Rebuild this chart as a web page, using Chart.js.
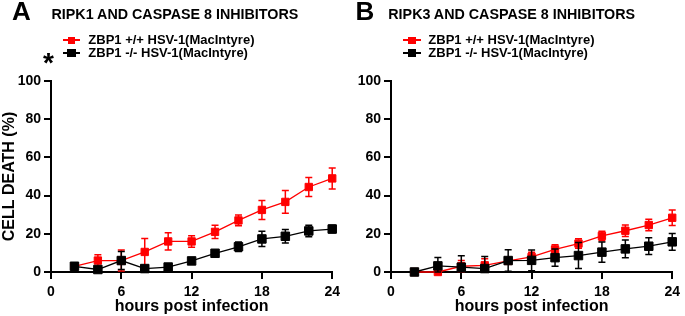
<!DOCTYPE html>
<html>
<head>
<meta charset="utf-8">
<script src="https://cdn.jsdelivr.net/npm/chart.js@4/dist/chart.umd.min.js"></script>
<style>
  body { margin: 0; background: #fff; }
  #wrap { position: relative; width: 685px; height: 316px; overflow: hidden; background: #fff; }
  .box { position: absolute; top: 0; height: 316px; }
  .txt { position: absolute; font-family: "Liberation Sans", Arial, sans-serif; font-weight: bold; color: #000; white-space: nowrap; }
  .letter { font-size: 26px; line-height: 26px; }
  .title { font-size: 14.3px; line-height: 14.3px; }
  .leg { font-size: 13px; line-height: 13px; }
  .mline { position: absolute; height: 1.5px; }
  .msq { position: absolute; }
</style>
</head>
<body>
<div id="wrap">
  <div class="box" style="left:0;width:345px"><canvas id="chartA"></canvas></div>
  <div class="box" style="left:345px;width:340px"><canvas id="chartB"></canvas></div>

  <div class="txt letter" style="left:12px;top:-2px">A</div>
  <div class="txt title" style="left:51.5px;top:7.2px">RIPK1 AND CASPASE 8 INHIBITORS</div>
  <div class="txt" style="left:43px;top:49px;font-size:28px;line-height:28px">*</div>

  <div class="txt letter" style="left:355.5px;top:-2px">B</div>
  <div class="txt title" style="left:388.3px;top:7.2px">RIPK3 AND CASPASE 8 INHIBITORS</div>

  <div id="legA"></div>
  <div id="legB"></div>
</div>

<script>
// time points (hours post infection)
const hours = [2, 4, 6, 8, 10, 12, 14, 16, 18, 20, 22, 24];

// panel A - RIPK1 and caspase 8 inhibitors
const ripk1WT = [3, 6, 6, 10.5, 16, 16, 21, 27, 32.5, 36.7, 44.5, 49];
const ripk1WTErr = [1, 3, 5.5, 7, 4.5, 3, 3.5, 2.8, 5, 6, 5, 5.5];
const ripk1KO = [3, 1.3, 6, 1.8, 2.6, 5.8, 9.8, 13.2, 17.3, 18.7, 21.5, 22.5];
const ripk1KOErr = [1, 1, 4.7, 1, 1, 1, 1, 2.5, 4, 3.5, 3, 2];

// panel B - RIPK3 and caspase 8 inhibitors
const ripk3WT = [0, 0, 3, 3.5, 5.8, 7.9, 11.8, 14.9, 18.9, 21.6, 24.6, 28.4];
const ripk3WTErr = [0.5, 0.5, 3, 3.5, 1.5, 2.5, 2.5, 2.5, 2.5, 3, 3, 4];
const ripk3KO = [0, 3.2, 2.5, 1.8, 6, 6.1, 7.5, 8.6, 10.4, 12.1, 13.5, 15.8];
const ripk3KOErr = [0.5, 4.4, 6, 6.3, 5.6, 5.4, 4.5, 6.8, 5.3, 4.7, 4.4, 4.4];

const yTicks = [0, 20, 40, 60, 80, 100];
const xTicks = [0, 6, 12, 18, 24];

const legendLabels = ['ZBP1 +/+ HSV-1(MacIntyre)', 'ZBP1 -/- HSV-1(MacIntyre)'];
const RED = '#ff0000';
const BLACK = '#000000';

Chart.defaults.font.family = '"Liberation Sans", Arial, sans-serif';
Chart.defaults.font.weight = 'bold';
Chart.defaults.color = '#000';

// draws SEM bars right before each dataset so the squares sit on top
const errorBars = {
    id: 'errorBars',
    beforeDatasetDraw(chart, args) {
        const ds = chart.data.datasets[args.index];
        if (!ds.errors) return;
        const y = chart.scales.y;
        const ctx = chart.ctx;
        ctx.save();
        ctx.strokeStyle = ds.borderColor;
        ctx.lineWidth = 1.5;
        args.meta.data.forEach((pt, i) => {
            const v = ds.data[i].y;
            const e = ds.errors[i];
            const top = y.getPixelForValue(v + e);
            const bot = y.getPixelForValue(Math.max(0, v - e));
            ctx.beginPath();
            ctx.moveTo(pt.x, top);
            ctx.lineTo(pt.x, bot);
            ctx.moveTo(pt.x - 3.5, top);
            ctx.lineTo(pt.x + 3.5, top);
            ctx.moveTo(pt.x - 3.5, bot);
            ctx.lineTo(pt.x + 3.5, bot);
            ctx.stroke();
        });
        ctx.restore();
    }
};

function series(label, values, errors, color, radius, order) {
    return {
        label: label,
        data: hours.map((h, i) => ({ x: h, y: values[i] })),
        errors: errors,
        borderColor: color,
        backgroundColor: color,
        borderWidth: 1.3,
        pointStyle: 'rect',
        pointRadius: radius,
        pointBorderWidth: 1,
        pointBorderColor: color,
        pointBackgroundColor: color,
        tension: 0,
        clip: false,
        order: order
    };
}

function axisGrid() {
    return {
        display: true,
        drawOnChartArea: false,
        drawTicks: true,
        tickLength: 7,
        color: '#000',
        lineWidth: 2
    };
}

function makeChart(id, wt, wtErr, ko, koErr, yWidth, showYTitle, rightPad) {
    return new Chart(document.getElementById(id), {
        type: 'line',
        data: {
            datasets: [
                series(legendLabels[0], wt, wtErr, RED, 5.2, 2),
                series(legendLabels[1], ko, koErr, BLACK, 6, 1)
            ]
        },
        options: {
            responsive: true,
            maintainAspectRatio: false,
            animation: false,
            layout: { padding: { top: 81, right: rightPad, left: 0, bottom: 0 } },
            plugins: {
                legend: { display: false },
                tooltip: { enabled: false }
            },
            scales: {
                x: {
                    type: 'linear',
                    min: xTicks[0],
                    max: xTicks[xTicks.length - 1],
                    afterBuildTicks: s => { s.ticks = xTicks.map(v => ({ value: v })); },
                    ticks: { color: '#000', font: { size: 14, weight: 'bold' }, padding: 5, maxRotation: 0 },
                    grid: axisGrid(),
                    border: { display: true, color: '#000', width: 2 },
                    title: {
                        display: true,
                        text: 'hours post infection',
                        color: '#000',
                        font: { size: 16, weight: 'bold' },
                        padding: 0
                    },
                    afterFit: s => { s.height = 44; }
                },
                y: {
                    min: yTicks[0],
                    max: yTicks[yTicks.length - 1],
                    afterBuildTicks: s => { s.ticks = yTicks.map(v => ({ value: v })); },
                    ticks: { color: '#000', font: { size: 14, weight: 'bold' }, padding: 3 },
                    grid: axisGrid(),
                    border: { display: true, color: '#000', width: 2 },
                    title: {
                        display: showYTitle,
                        text: 'CELL DEATH (%)',
                        color: '#000',
                        font: { size: 16, weight: 'bold' },
                        padding: 0
                    },
                    afterFit: s => { s.width = yWidth; }
                }
            }
        },
        plugins: [errorBars]
    });
}

makeChart('chartA', ripk1WT, ripk1WTErr, ripk1KO, ripk1KOErr, 51, true, 8);
makeChart('chartB', ripk3WT, ripk3WTErr, ripk3KO, ripk3KOErr, 46, false, 7);

// legend rows
function legend(elId, lineLeft, textLeft) {
    const el = document.getElementById(elId);
    const colors = [RED, BLACK];
    const sizes = [7.3, 8.5];
    const rowY = [40.2, 53];
    legendLabels.forEach((label, i) => {
        const cx = (lineLeft + lineLeft + 17.5) / 2;
        el.innerHTML += `
            <div class="mline" style="left:${lineLeft}px;width:17.5px;top:${rowY[i] - 0.75}px;background:${colors[i]}"></div>
            <div class="msq" style="left:${cx - sizes[i] / 2}px;top:${rowY[i] - sizes[i] / 2}px;width:${sizes[i]}px;height:${sizes[i]}px;background:${colors[i]}"></div>
            <div class="txt leg" style="left:${textLeft}px;top:${rowY[i] - 7.4}px">${label}</div>
        `;
    });
}

legend('legA', 62.7, 88.3);
legend('legB', 403.3, 428.3);
</script>
</body>
</html>
